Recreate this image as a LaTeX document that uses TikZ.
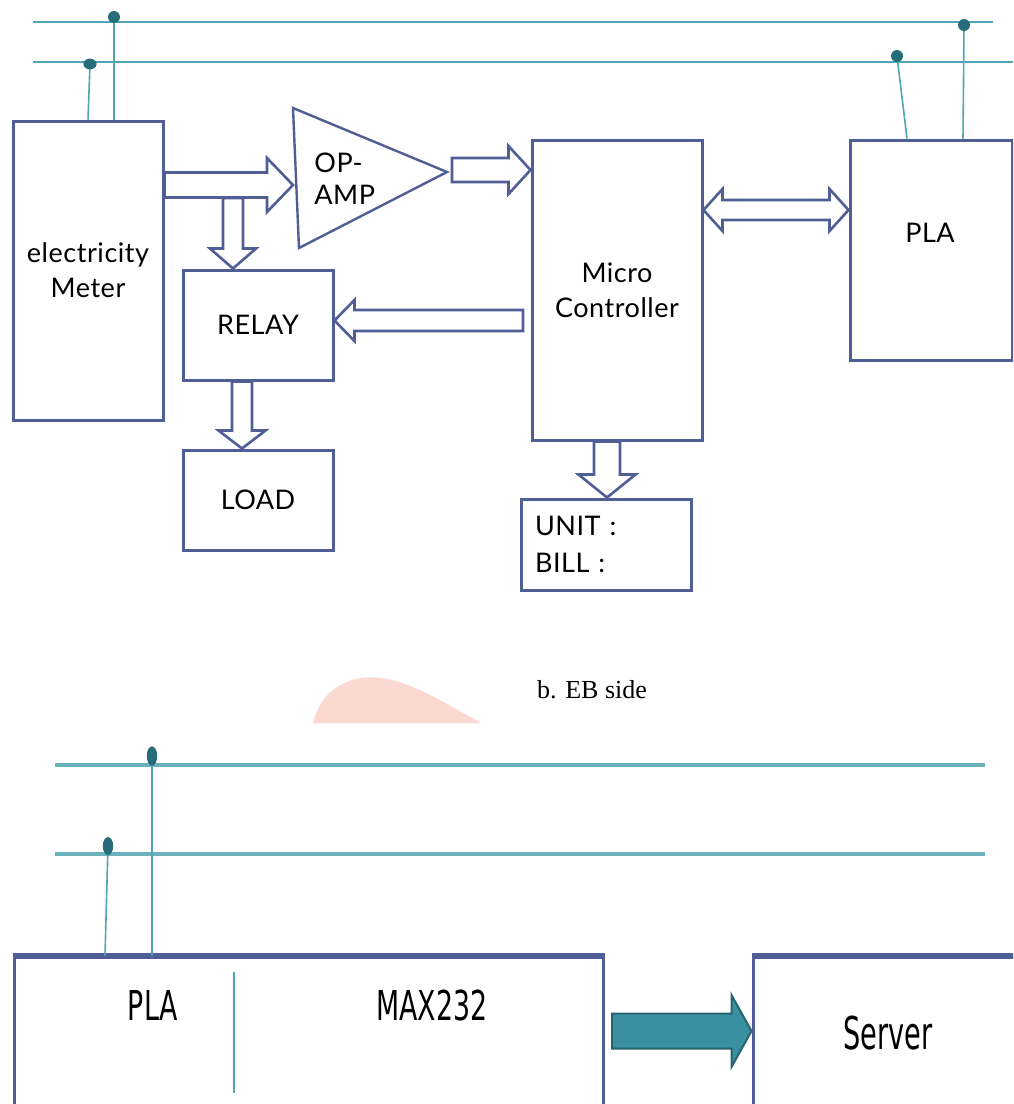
\documentclass[tikz,border=0pt]{standalone}
\usepackage{fontspec}
\usepackage{graphicx}
\usetikzlibrary{calc, positioning}
\newfontfamily\gillfont{Lato}[LetterSpace=2.0]
\newfontfamily\narrowfont{DejaVu Sans}
\newfontfamily\captionfont{Liberation Serif}
\definecolor{boxblue}{RGB}{79,94,148}
\definecolor{wireteal}{RGB}{82,165,178}
\definecolor{dotteal}{RGB}{38,108,122}
\definecolor{arrowteal}{RGB}{58,143,160}
\definecolor{arrowedge}{RGB}{40,100,112}
\definecolor{stamp}{RGB}{252,216,210}

\newcommand{\fatH}[6][]{%
  \draw[fat,#1] let \p1=#2, \p2=#3, \n1={(\x2-\x1)/abs(\x2-\x1)},
    \n2={\x2-\n1*#6} in
    ({\x1},{\y1+#4}) -- ({\n2},{\y1+#4}) -- ({\n2},{\y1+#5}) -- ({\x2},{\y1})
    -- ({\n2},{\y1-#5}) -- ({\n2},{\y1-#4}) -- ({\x1},{\y1-#4}) -- cycle;}
\newcommand{\fatD}[6][]{%
  \draw[fat,#1] let \p1=#2, \p2=#3, \n1={(\x2-\x1)/abs(\x2-\x1)},
    \n2={\x2-\n1*#6}, \n3={\x1+\n1*#6} in
    ({\x1},{\y1}) -- ({\n3},{\y1+#5}) -- ({\n3},{\y1+#4})
    -- ({\n2},{\y1+#4}) -- ({\n2},{\y1+#5}) -- ({\x2},{\y1})
    -- ({\n2},{\y1-#5}) -- ({\n2},{\y1-#4})
    -- ({\n3},{\y1-#4}) -- ({\n3},{\y1-#5}) -- cycle;}
\newcommand{\fatV}[6][]{%
  \draw[fat,#1] let \p1=#2, \p2=#3, \n1={(\y2-\y1)/abs(\y2-\y1)},
    \n2={\y2-\n1*#6} in
    ({\x1+#4},{\y1}) -- ({\x1+#4},{\n2}) -- ({\x1+#5},{\n2}) -- ({\x1},{\y2})
    -- ({\x1-#5},{\n2}) -- ({\x1-#4},{\n2}) -- ({\x1-#4},{\y1}) -- cycle;}

\begin{document}
\begin{tikzpicture}[
    x=0.5pt, y=-0.5pt,
    box/.style={rectangle, draw=boxblue, line width=1.5pt, fill=white,
                inner sep=0pt, align=center,
                font=\gillfont\fontsize{13.5}{17.5}\selectfont},
    lowbox/.style={rectangle, draw=boxblue, line width=1.5pt, fill=white, inner sep=0pt},
    lowtext/.style={inner sep=0pt, font=\narrowfont\fontsize{20.6}{24}\selectfont},
    fat/.style={draw=boxblue, line width=1.3pt, fill=white, line join=miter},
    tealarrow/.style={draw=arrowedge, fill=arrowteal, line width=1pt},
    bus/.style={wireteal, line width=1.1pt},
    busb/.style={wireteal!85, line width=2pt},
    wire/.style={wireteal, line width=0.8pt},
    tap/.style={fill=dotteal}
]
\useasboundingbox[fill=white] (0,0) rectangle (1013,1104);
\clip (0,0) rectangle (1013,1104);

\node[box, minimum width=75pt, minimum height=149.5pt] (meter) at (88,270.5) {electricity\\Meter};
\node[box, minimum width=75pt, minimum height=55pt] (relay) at (258,325) {RELAY};
\node[box, minimum width=75pt, minimum height=50pt] (load) at (258,500) {LOAD};
\node[box, minimum width=85pt, minimum height=150pt] (mc) at (617,290) {Micro\\Controller};
\node[box, minimum width=81pt, minimum height=110pt] (pla) at (931,250) {};
\node[inner sep=0pt, font=\gillfont\fontsize{13.5}{17.5}\selectfont] (platext) at (930,233) {PLA};
\node[box, align=left, text width=71pt, inner xsep=7pt, minimum height=45.5pt,
      font=\gillfont\fontsize{13.5}{18.5}\selectfont] (unit) at (606,544.5) {UNIT :\\BILL :};

\coordinate (ampA) at (293,108);
\coordinate (ampB) at (447,172);
\coordinate (ampC) at (299,248);
\draw[boxblue, line width=1.2pt, line join=miter] (ampA) -- (ampB) -- (ampC) -- cycle;
\node[anchor=west, align=left, inner sep=0pt,
      font=\gillfont\fontsize{13.5}{16}\selectfont] (amptext) at (314,179) {OP-\\AMP};

\coordinate (ampin) at (293,185);
\coordinate (split) at (233,198);
\coordinate (ampout) at (452,170);
\coordinate (mcout) at (523,320.5);
\coordinate (mcpla) at (700,210);
\coordinate (relaydrop) at (242,380);
\coordinate (mcdrop) at (607,440);
\fatH{(meter.east |- ampin)}{(ampin)}{6.25pt}{13.5pt}{13pt}
\fatV{(split)}{(relay.north -| split)}{5pt}{11.5pt}{10pt}
\fatH{(ampout)}{(mc.west |- ampout)}{6pt}{12pt}{11pt}
\fatH{(mcout)}{(relay.east |- mcout)}{5.25pt}{10.25pt}{10pt}
\fatD{(mc.east |- mcpla)}{(pla.west |- mcpla)}{5pt}{10.5pt}{9.5pt}
\fatV{(relay.south -| relaydrop)}{(load.north -| relaydrop)}{5pt}{11.75pt}{9pt}
\fatV{(mc.south -| mcdrop)}{(unit.north -| mcdrop)}{6.5pt}{14.25pt}{11.5pt}

\draw[bus] (33,22) -- (993,22);
\draw[bus] (33,62) -- (1013,62);
\coordinate (tapA) at (114,17);
\coordinate (tapB) at (90,64);
\coordinate (tapC) at (964,25);
\coordinate (tapD) at (897,56);
\coordinate (dropB) at (88,120);
\coordinate (dropC) at (963,140);
\coordinate (dropD) at (907,140);
\draw[wire] (tapA) -- (meter.north -| tapA);
\draw[wire] (tapB) -- (meter.north -| dropB);
\draw[wire] (tapC) -- (pla.north -| dropC);
\draw[wire] (tapD) -- (pla.north -| dropD);
\fill[tap] (tapA) circle (3pt);
\fill[tap] (tapB) ellipse (3.3pt and 2.7pt);
\fill[tap] (tapC) circle (3pt);
\fill[tap] (tapD) circle (3pt);

\fill[stamp] (313,723) .. controls (322,688) and (350,674) .. (381,678)
  .. controls (412,682) and (445,703) .. (481,723) -- cycle;
\node[font=\captionfont\fontsize{13}{15}\selectfont] (caption) at (592,690) {b. EB side};

\draw[busb] (55,765) -- (985,765);
\draw[busb] (55,854) -- (985,854);
\node[lowbox, minimum width=294.5pt, minimum height=84pt] (plab) at (308.5,1041) {};
\node[lowbox, minimum width=143.5pt, minimum height=84pt] (server) at (896.5,1041) {};
\draw[boxblue, line width=2.5pt] (plab.north west) -- (plab.north east);
\draw[boxblue, line width=2.5pt] (server.north west) -- (server.north east);
\coordinate (tapE) at (152,756);
\coordinate (tapF) at (108,846);
\coordinate (dropF) at (105,957);
\draw[wire] (tapE) -- (plab.north -| tapE);
\draw[wire] (tapF) -- (plab.north -| dropF);
\fill[tap] (tapE) ellipse (2.6pt and 4.8pt);
\fill[tap] (tapF) ellipse (2.6pt and 4.5pt);
\draw[wire] (234,972) -- (234,1093);
\node[lowtext] (plalabel) at (153,1005) {\scalebox{0.65}[1]{PLA}};
\node[lowtext] (maxlabel) at (432,1005) {\scalebox{0.65}[1]{MAX232}};
\node[lowtext, font=\narrowfont\fontsize{22.6}{26}\selectfont] (serverlabel) at (888,1033) {\scalebox{0.6}[1]{Server}};
\coordinate (maxout) at (612,1031);
\fatH[tealarrow]{(maxout)}{(server.west |- maxout)}{8.75pt}{18pt}{10pt}
\end{tikzpicture}
\end{document}
